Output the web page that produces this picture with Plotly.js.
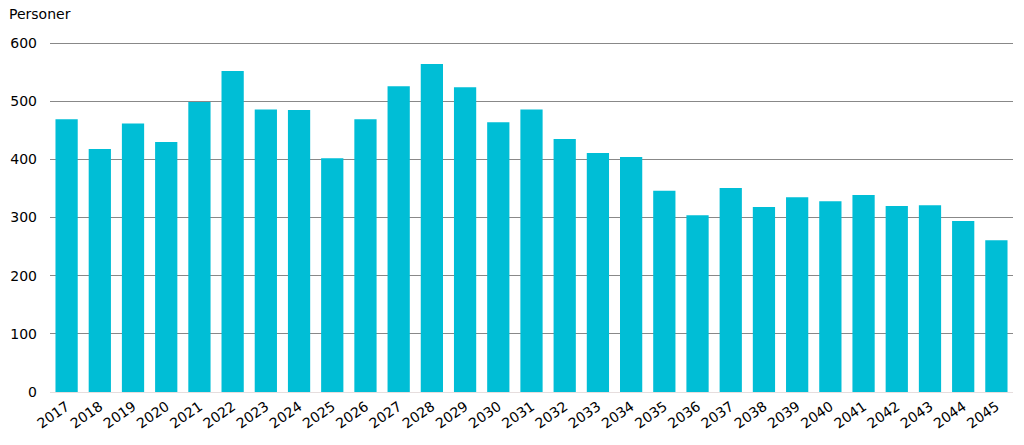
<!DOCTYPE html>
<html>
<head>
<meta charset="utf-8">
<script src="https://cdn.plot.ly/plotly-3.0.1.min.js"></script>
<style>html,body{margin:0;padding:0;background:#fff;}#chart{width:1024px;height:445px;}</style>
</head>
<body>
<div id="chart"></div>
<script>
const years = ['2017','2018','2019','2020','2021','2022','2023','2024','2025','2026','2027','2028','2029','2030','2031','2032','2033','2034','2035','2036','2037','2038','2039','2040','2041','2042','2043','2044','2045'];
const persons = [469,418,462,430,499,552,486,485,402,469,526,564,524,464,486,435,411,404,346,304,351,318,335,328,339,320,321,294,261];
const yTicks = [0,100,200,300,400,500,600];
const yLabel = 'Personer';

const trace = {
  type: 'bar',
  x: years,
  y: persons,
  marker: {color: '#00BED6'},
  hoverinfo: 'x+y'
};
const layout = {
  width: 1024, height: 445,
  margin: {l: 50, r: 11, t: 42, b: 53, pad: 0},
  paper_bgcolor: '#fff', plot_bgcolor: '#fff',
  bargap: 0.33,
  font: {family: 'DejaVu Sans, Verdana, sans-serif', size: 14, color: '#000'},
  showlegend: false,
  xaxis: {
    type: 'category',
    tickangle: -35,
    showgrid: false,
    showline: true, linecolor: '#e6dede', linewidth: 1,
    ticks: '',
    tickfont: {size: 14},
    automargin: false
  },
  yaxis: {
    range: [0, 602],
    tickvals: yTicks,
    ticktext: yTicks.map(String),
    showgrid: true, gridcolor: '#888888', gridwidth: 1,
    zeroline: false,
    showline: false,
    ticks: '',
    ticklabelstandoff: 12,
    tickfont: {size: 14},
    automargin: false
  },
  annotations: [{
    text: yLabel, xref: 'paper', yref: 'paper', x: 0, y: 1,
    xshift: -43, yshift: 28, xanchor: 'left', yanchor: 'middle',
    showarrow: false, font: {size: 14}
  }]
};
Plotly.newPlot('chart', [trace], layout, {displayModeBar: false, staticPlot: true});
</script>
</body>
</html>
